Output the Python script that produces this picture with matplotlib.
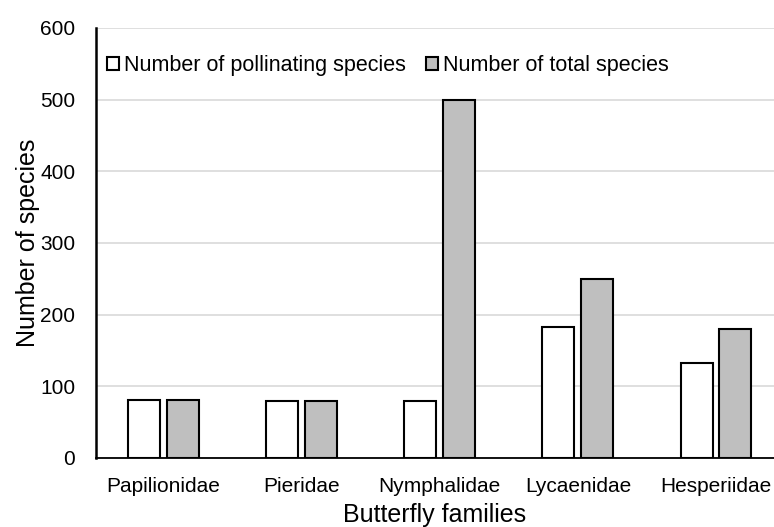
import numpy as np
import matplotlib.pyplot as plt

plt.rcParams['font.family'] = ['Liberation Sans', 'DejaVu Sans']

# Species counts per butterfly family
families = ["Papilionidae", "Pieridae", "Nymphalidae", "Lycaenidae", "Hesperiidae"]
pollinating = [81, 79, 80, 183, 132]
total = [81, 79, 500, 250, 180]

x = np.arange(len(families))
w = 0.232
off = 0.141

fig = plt.figure(figsize=(7.74, 5.27), dpi=100)
ax = fig.add_axes([0.124, 0.131, 0.876, 0.816])

ax.bar(x - off, pollinating, w, color="white", edgecolor="black", linewidth=1.5,
       label="Number of pollinating species", zorder=3)
ax.bar(x + off, total, w, color="#bfbfbf", edgecolor="black", linewidth=1.5,
       label="Number of total species", zorder=3)

ax.set_ylim(0, 600)
ax.set_xlim(-0.49, 4.42)
ax.set_yticks(range(0, 601, 100))
ax.set_xticks(x)
ax.set_xticklabels(families)
ax.yaxis.grid(True, color="#d9d9d9", linewidth=1.2, zorder=0)
ax.tick_params(axis="y", length=0, labelsize=15, pad=15)
ax.tick_params(axis="x", length=0, labelsize=15, pad=14)

for s in ["top", "right"]:
    ax.spines[s].set_visible(False)
ax.spines["left"].set_linewidth(1.8)
ax.spines["bottom"].set_linewidth(1.3)

ax.set_xlabel("Butterfly families", fontsize=18, labelpad=5)
ax.set_ylabel("Number of species", fontsize=18, labelpad=0)

ax.legend(loc="upper left", bbox_to_anchor=(-0.012, 0.982), ncol=2, frameon=False,
          fontsize=15.5, handlelength=0.55, handleheight=0.55, handletextpad=0.25,
          columnspacing=0.9)

plt.savefig("out.png", dpi=100)
